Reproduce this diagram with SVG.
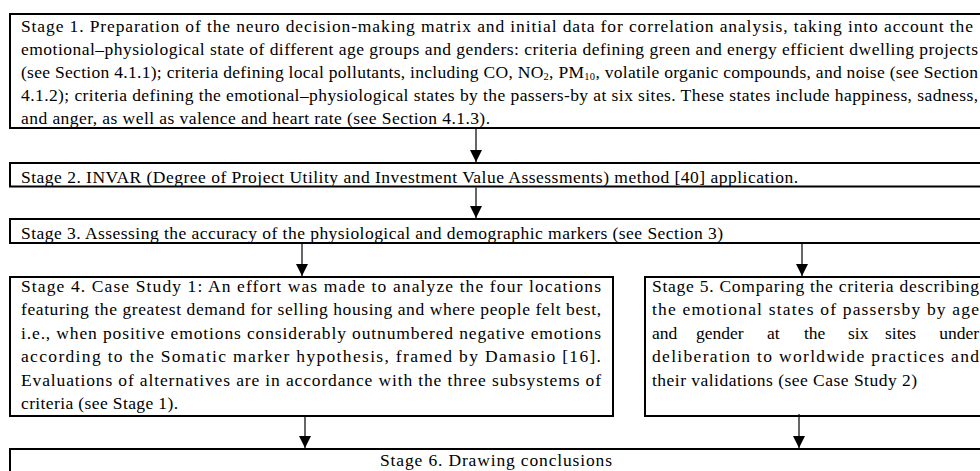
<svg xmlns="http://www.w3.org/2000/svg" width="980" height="471" viewBox="0 0 980 471">
<style>
.box{fill:#fff;stroke:#000;stroke-width:2}
.t{font-family:"Liberation Serif","Times New Roman",serif;font-size:17.5px;fill:#000}
.sub{font-size:10.5px}
.c{stroke:#000;stroke-width:1.2;fill:none;marker-end:url(#ah)}
</style>
<defs>
<marker id="ah" viewBox="0 0 12 12" refX="12" refY="6" markerWidth="12" markerHeight="12" markerUnits="userSpaceOnUse" orient="auto">
<path d="M0,0 L12,6 L0,12 z" fill="#000"/>
</marker>
</defs>
<rect width="980" height="471" fill="#fff"/>
<g id="stage1">
<rect class="box" x="10" y="14" width="990" height="114"/>
<text class="t" x="21" y="32" textLength="952" lengthAdjust="spacing">Stage 1. Preparation of the neuro decision-making matrix and initial data for correlation analysis, taking into account the</text>
<text class="t" x="21" y="55" textLength="957" lengthAdjust="spacing">emotional–physiological state of different age groups and genders: criteria defining green and energy efficient dwelling projects</text>
<text class="t" x="21" y="78" textLength="957" lengthAdjust="spacing">(see Section 4.1.1); criteria defining local pollutants, including CO, NO<tspan class="sub" dy="2">2</tspan><tspan dy="-2">, PM</tspan><tspan class="sub" dy="2">10</tspan><tspan dy="-2">, volatile organic compounds, and noise (see Section</tspan></text>
<text class="t" x="21" y="101" textLength="957" lengthAdjust="spacing">4.1.2); criteria defining the emotional–physiological states by the passers-by at six sites. These states include happiness, sadness,</text>
<text class="t" x="21" y="124" textLength="469" lengthAdjust="spacing">and anger, as well as valence and heart rate (see Section 4.1.3).</text>
</g>
<g id="stage2">
<rect class="box" x="10" y="163" width="990" height="23.5"/>
<text class="t" x="21" y="182.5" textLength="777" lengthAdjust="spacing">Stage 2. INVAR (Degree of Project Utility and Investment Value Assessments) method [40] application.</text>
</g>
<g id="stage3">
<rect class="box" x="10" y="219" width="990" height="24"/>
<text class="t" x="21" y="239" textLength="702" lengthAdjust="spacing">Stage 3. Assessing the accuracy of the physiological and demographic markers (see Section 3)</text>
</g>
<g id="stage4">
<rect class="box" x="10" y="277" width="603" height="139"/>
<text class="t" x="21" y="292" textLength="580" lengthAdjust="spacing">Stage 4. Case Study 1: An effort was made to analyze the four locations</text>
<text class="t" x="21" y="315.4" textLength="580" lengthAdjust="spacing">featuring the greatest demand for selling housing and where people felt best,</text>
<text class="t" x="21" y="338.8" textLength="580" lengthAdjust="spacing">i.e., when positive emotions considerably outnumbered negative emotions</text>
<text class="t" x="21" y="362.2" textLength="580" lengthAdjust="spacing">according to the Somatic marker hypothesis, framed by Damasio [16].</text>
<text class="t" x="21" y="385.6" textLength="580" lengthAdjust="spacing">Evaluations of alternatives are in accordance with the three subsystems of</text>
<text class="t" x="21" y="409" textLength="157" lengthAdjust="spacing">criteria (see Stage 1).</text>
</g>
<g id="stage5">
<rect class="box" x="645" y="277" width="355" height="139"/>
<text class="t" x="652" y="292" textLength="327" lengthAdjust="spacing">Stage 5. Comparing the criteria describing</text>
<text class="t" x="652" y="315.4" textLength="327" lengthAdjust="spacing">the emotional states of passersby by age</text>
<text class="t" y="338.8"><tspan x="652">and</tspan><tspan x="696">gender</tspan><tspan x="767">at</tspan><tspan x="804">the</tspan><tspan x="848">six</tspan><tspan x="885">sites</tspan><tspan x="979" text-anchor="end">under</tspan></text>
<text class="t" x="652" y="362.2" textLength="327" lengthAdjust="spacing">deliberation to worldwide practices and</text>
<text class="t" x="652" y="385.6" textLength="265" lengthAdjust="spacing">their validations (see Case Study 2)</text>
</g>
<g id="stage6">
<rect class="box" x="10" y="449" width="990" height="40"/>
<text class="t" x="380" y="466" textLength="232" lengthAdjust="spacing">Stage 6. Drawing conclusions</text>
</g>
<g id="connectors">
<line class="c" x1="476" y1="129" x2="476" y2="162"/>
<line class="c" x1="476" y1="187.5" x2="476" y2="218"/>
<line class="c" x1="302" y1="244" x2="302" y2="276"/>
<line class="c" x1="802" y1="244" x2="802" y2="276"/>
<line class="c" x1="305" y1="417" x2="305" y2="448"/>
<line class="c" x1="799" y1="414" x2="799" y2="448"/>
</g>
</svg>
